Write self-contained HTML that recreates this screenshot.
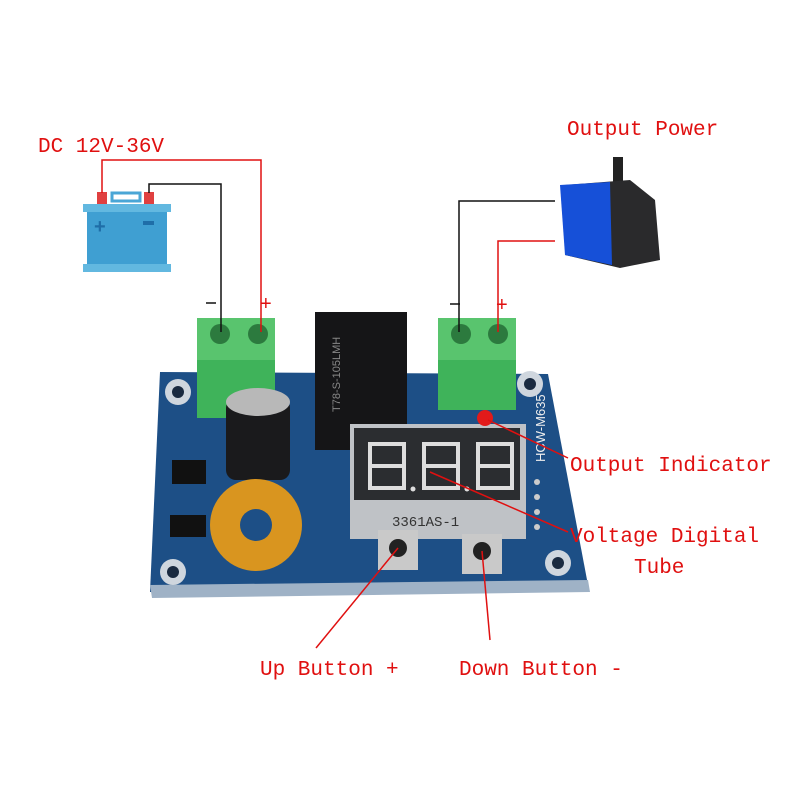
<!DOCTYPE html>
<html><head><meta charset="utf-8"><style>
body{margin:0;background:#fff}
svg{display:block}
text.l{font-family:"Liberation Mono",monospace;font-size:21px;fill:#e01010}
</style></head><body>
<svg width="800" height="800" viewBox="0 0 800 800">
<!-- board -->
<polygon points="160,372 548,374 588,585 150,592" fill="#1d4f86"/>
<polygon points="150,585 588,580 590,592 152,598" fill="#9fb2c6"/>
<circle cx="178" cy="392" r="13" fill="#cfd6de"/><circle cx="178" cy="392" r="6" fill="#1a2a40"/>
<circle cx="530" cy="384" r="13" fill="#cfd6de"/><circle cx="530" cy="384" r="6" fill="#1a2a40"/>
<circle cx="173" cy="572" r="13" fill="#cfd6de"/><circle cx="173" cy="572" r="6" fill="#1a2a40"/>
<circle cx="558" cy="563" r="13" fill="#cfd6de"/><circle cx="558" cy="563" r="6" fill="#1a2a40"/>
<!-- relay -->
<rect x="315" y="312" width="92" height="138" fill="#151517"/>
<text x="0" y="0" transform="translate(340,412) rotate(-90)" font-family="Liberation Sans" font-size="11" fill="#888">T78-S-105LMH</text>
<!-- terminals -->
<rect x="197" y="318" width="78" height="100" fill="#3fb35a"/>
<rect x="197" y="318" width="78" height="42" fill="#59c46e"/>
<circle cx="220" cy="334" r="10" fill="#2c7a3e"/><circle cx="258" cy="334" r="10" fill="#2c7a3e"/>
<rect x="438" y="318" width="78" height="92" fill="#3fb35a"/>
<rect x="438" y="318" width="78" height="42" fill="#59c46e"/>
<circle cx="461" cy="334" r="10" fill="#2c7a3e"/><circle cx="498" cy="334" r="10" fill="#2c7a3e"/>
<!-- capacitor -->
<rect x="226" y="398" width="64" height="82" rx="10" fill="#1a1a1c"/>
<ellipse cx="258" cy="402" rx="32" ry="14" fill="#b8b8b8"/>
<!-- chips -->
<rect x="172" y="460" width="34" height="24" fill="#111"/>
<rect x="170" y="515" width="36" height="22" fill="#111"/>
<!-- toroid -->
<circle cx="256" cy="525" r="46" fill="#d9951f"/>
<circle cx="256" cy="525" r="16" fill="#1d4f86"/>
<!-- display -->
<rect x="350" y="424" width="176" height="115" fill="#bfc2c6"/>
<rect x="354" y="428" width="166" height="72" fill="#2b2d30"/>
<g fill="none" stroke="#ddd" stroke-width="4">
<rect x="370" y="444" width="34" height="44"/><line x1="370" y1="466" x2="404" y2="466"/>
<rect x="424" y="444" width="34" height="44"/><line x1="424" y1="466" x2="458" y2="466"/>
<rect x="478" y="444" width="34" height="44"/><line x1="478" y1="466" x2="512" y2="466"/>
</g>
<circle cx="413" cy="489" r="2.5" fill="#ddd"/><circle cx="467" cy="489" r="2.5" fill="#ddd"/>
<text x="392" y="526" font-family="Liberation Mono" font-size="14" fill="#333">3361AS-1</text>
<!-- buttons -->
<rect x="378" y="530" width="40" height="40" fill="#c9c9c9"/><circle cx="398" cy="548" r="9" fill="#222"/>
<rect x="462" y="534" width="40" height="40" fill="#c9c9c9"/><circle cx="482" cy="551" r="9" fill="#222"/>
<!-- led -->
<circle cx="485" cy="418" r="8" fill="#e21a1a"/>
<text x="0" y="0" transform="translate(545,462) rotate(-90)" font-family="Liberation Sans" font-size="13" fill="#eee">HCW-M635</text>
<circle cx="537" cy="482" r="3" fill="#ccc"/><circle cx="537" cy="497" r="3" fill="#ccc"/><circle cx="537" cy="512" r="3" fill="#ccc"/><circle cx="537" cy="527" r="3" fill="#ccc"/>
<!-- battery -->
<rect x="97" y="192" width="10" height="12" fill="#e04040"/>
<rect x="144" y="192" width="10" height="12" fill="#e04040"/>
<rect x="112" y="193" width="28" height="8" fill="none" stroke="#4aa6d6" stroke-width="3"/>
<rect x="83" y="204" width="88" height="8" fill="#62b8e0"/>
<rect x="87" y="212" width="80" height="52" fill="#3f9fd2"/>
<rect x="83" y="264" width="88" height="8" fill="#62b8e0"/>
<text x="94" y="233" font-family="Liberation Sans" font-size="20" font-weight="bold" fill="#1f6ea8">+</text>
<rect x="143" y="221" width="11" height="4" fill="#1f6ea8"/>
<!-- pump -->
<rect x="613" y="157" width="10" height="28" fill="#222"/>
<path d="M565 185 L630 180 L655 200 L660 260 L620 268 L565 255 Z" fill="#2a2a2c"/>
<path d="M560 185 L610 182 L612 265 L565 255 Z" fill="#1650d8"/>
<!-- wires -->
<g fill="none" stroke-width="1.5">
<polyline points="102,193 102,160 261,160 261,332" stroke="#e01010"/>
<polyline points="149,193 149,184 221,184 221,332" stroke="#111"/>
<polyline points="555,201 459,201 459,332" stroke="#111"/>
<polyline points="555,241 498,241 498,332" stroke="#e01010"/>
<line x1="206" y1="303" x2="216" y2="303" stroke="#111"/>
<line x1="450" y1="304" x2="460" y2="304" stroke="#111"/>
<line x1="488" y1="420" x2="568" y2="458" stroke="#e01010"/>
<line x1="430" y1="472" x2="568" y2="532" stroke="#e01010"/>
<line x1="398" y1="548" x2="316" y2="648" stroke="#e01010"/>
<line x1="482" y1="551" x2="490" y2="640" stroke="#e01010"/>
</g>
<text x="260" y="310" font-family="Liberation Sans" font-size="20" fill="#e01010">+</text>
<text x="496" y="311" font-family="Liberation Sans" font-size="20" fill="#e01010">+</text>
<!-- labels -->
<text class="l" x="38" y="152">DC 12V-36V</text>
<text class="l" x="567" y="135">Output Power</text>
<text class="l" x="570" y="471">Output Indicator</text>
<text class="l" x="570" y="542">Voltage Digital</text>
<text class="l" x="634" y="573">Tube</text>
<text class="l" x="260" y="675">Up Button +</text>
<text class="l" x="459" y="675">Down Button -</text>
</svg>
</body></html>
